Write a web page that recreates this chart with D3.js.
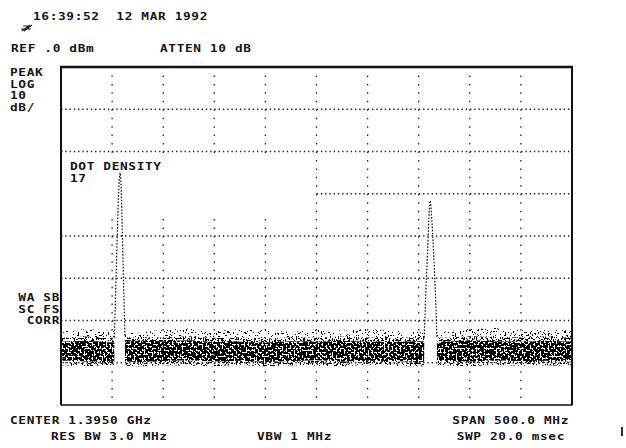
<!DOCTYPE html>
<html>
<head>
<meta charset="utf-8">
<script src="https://cdn.jsdelivr.net/npm/d3@7"></script>
<style>
  html, body { margin: 0; padding: 0; background: #fff; }
  svg text { font-family: "DejaVu Sans Mono", "Liberation Mono", monospace; font-size: 10px; font-weight: bold; fill: #151515; letter-spacing: 0.5px; white-space: pre; }
</style>
</head>
<body>
<svg id="chart" width="626" height="448"></svg>
<script>
// Analyzer settings (MHz / dBm)
const centerMHz = 1395;
const spanMHz = 500;
const refLevel = 0;
const dbPerDiv = 10;
const xDivisions = 10;
const yDivisions = 8;

// Annotation texts
const headerLines = ["16:39:52  12 MAR 1992"];
const refLabels = ["REF .0 dBm", "ATTEN 10 dB"];
const modeLabels = ["PEAK", "LOG", "10", "dB/"];
const dotLabels = ["DOT DENSITY", "17"];
const statusLabels = ["WA SB", "SC FS", "CORR"];
const footerLabels = ["CENTER 1.3950 GHz", "SPAN 500.0 MHz", "RES BW 3.0 MHz", "VBW 1 MHz", "SWP 20.0 msec"];

// Carrier responses (frequency MHz, level dBm)
const peak1Freq  = [1197.2, 1198.6, 1199.8, 1201.0, 1202.0, 1202.8, 1203.4, 1204.2, 1205.2, 1206.3, 1207.6];
const peak1Level = [-64.0, -52.0, -42.0, -32.0, -26.5, -25.0, -26.0, -31.0, -41.0, -52.0, -64.0];
const peak2Freq  = [1500.4, 1502.0, 1503.6, 1504.9, 1505.7, 1506.2, 1507.0, 1508.3, 1510.0, 1511.6, 1512.8];
const peak2Level = [-64.0, -53.0, -44.0, -36.0, -32.5, -31.6, -33.0, -38.0, -46.0, -55.0, -64.0];

// Noise floor envelope (frequency MHz, level dBm)
const noiseFreq   = [1145, 1170, 1195, 1220, 1245, 1270, 1295, 1320, 1345, 1370, 1395, 1420, 1445, 1470, 1495, 1520, 1545, 1570, 1595, 1620, 1645];
const noiseSparse = [-62.6, -62.0, -62.4, -62.9, -62.2, -61.9, -62.6, -62.0, -62.3, -62.7, -62.1, -62.4, -62.0, -62.5, -62.2, -62.6, -62.0, -61.8, -62.3, -62.1, -62.4];
const noiseEdge   = [-64.1, -63.8, -64.2, -63.9, -64.0, -63.7, -64.2, -64.0, -64.3, -63.9, -64.1, -63.8, -64.0, -64.2, -63.9, -64.1, -63.7, -63.9, -64.0, -63.8, -64.1];
const noiseTop    = [-65.0, -64.8, -65.2, -64.8, -64.9, -64.7, -65.1, -65.0, -65.2, -64.9, -65.0, -64.8, -65.0, -65.1, -64.9, -65.0, -64.7, -64.9, -65.0, -64.8, -65.0];
const noiseBottom = [-69.4, -69.7, -69.5, -69.8, -69.6, -69.4, -69.7, -69.5, -69.8, -69.6, -69.4, -69.7, -69.5, -69.6, -69.8, -69.5, -69.7, -69.4, -69.6, -69.5, -69.7];
const noiseFringe = [-70.6, -70.8, -70.5, -70.9, -70.6, -70.7, -70.8, -70.5, -70.9, -70.6, -70.7, -70.8, -70.5, -70.7, -70.9, -70.6, -70.8, -70.5, -70.7, -70.6, -70.8];

const svg = d3.select("#chart");
const plot = { left: 61, right: 572, top: 67, bottom: 405 };

const x = d3.scaleLinear()
  .domain([centerMHz - spanMHz / 2, centerMHz + spanMHz / 2])
  .range([plot.left, plot.right]);
const y = d3.scaleLinear()
  .domain([refLevel - dbPerDiv * yDivisions, refLevel])
  .range([plot.bottom, plot.top]);

const xGrid = d3.range(1, xDivisions).map(i => x.domain()[0] + i * spanMHz / xDivisions);
const yGrid = d3.range(1, yDivisions).map(i => refLevel - i * dbPerDiv);

// Speckle filters: thresholded turbulence, masked by the band shape
const defs = svg.append("defs");
function speckle(id, seed, freq, threshold) {
  const n = 50;
  const table = d3.range(n).map(i => (i / n >= threshold ? 1 : 0)).join(" ");
  const f = defs.append("filter").attr("id", id)
    .attr("x", 0).attr("y", 0).attr("width", 1).attr("height", 1)
    .attr("color-interpolation-filters", "sRGB");
  f.append("feTurbulence").attr("type", "fractalNoise")
    .attr("baseFrequency", freq).attr("numOctaves", 2).attr("seed", seed).attr("result", "n");
  f.append("feColorMatrix").attr("in", "n").attr("type", "matrix")
    .attr("values", "0 0 0 0 0  0 0 0 0 0  0 0 0 0 0  1 0 0 0 0").attr("result", "a");
  const ct = f.append("feComponentTransfer").attr("in", "a").attr("result", "t");
  ct.append("feFuncA").attr("type", "discrete").attr("tableValues", table);
  f.append("feComposite").attr("in", "t").attr("in2", "SourceGraphic").attr("operator", "in");
}
speckle("spkSparse", 4, "0.6", 0.63);
speckle("spkEdge", 9, "0.55", 0.54);
speckle("spkDense", 7, "0.5", 0.46);
speckle("spkFringe", 11, "0.6", 0.58);

// Graticule
const grid = svg.append("g").attr("class", "grid");
grid.selectAll("line.h").data(yGrid).join("line").attr("class", "h")
  .attr("x1", plot.left).attr("x2", plot.right)
  .attr("y1", d => y(d)).attr("y2", d => y(d))
  .attr("stroke", "#222").attr("stroke-width", 1.3)
  .attr("stroke-dasharray", "1.4 2.86");
grid.selectAll("line.v").data(xGrid).join("line").attr("class", "v")
  .attr("x1", d => x(d)).attr("x2", d => x(d))
  .attr("y1", plot.top + 8.45).attr("y2", plot.bottom)
  .attr("stroke", "#222").attr("stroke-width", 1.3)
  .attr("stroke-dasharray", "1.5 6.95");

// Annotation block clears the graticule behind it
svg.append("rect")
  .attr("x", plot.left + 1).attr("y", y(-20) + 1.5)
  .attr("width", x(xGrid[4]) - plot.left - 2).attr("height", 62)
  .attr("fill", "#fff");

// Noise band, clipped away where the carriers rise out of it
const clip = defs.append("clipPath").attr("id", "noiseClip");
const gaps = [[peak1Freq[0], peak1Freq[peak1Freq.length - 1]], [peak2Freq[0], peak2Freq[peak2Freq.length - 1]]];
const segs = [];
let start = x.domain()[0];
gaps.forEach(g => { segs.push([start, g[0]]); start = g[1]; });
segs.push([start, x.domain()[1]]);
clip.selectAll("rect").data(segs).join("rect")
  .attr("x", d => x(d[0])).attr("width", d => x(d[1]) - x(d[0]))
  .attr("y", plot.top).attr("height", plot.bottom - plot.top);

const noise = noiseFreq.map((f, i) => ({
  f, s: noiseSparse[i], e: noiseEdge[i], t: noiseTop[i], b: noiseBottom[i], r: noiseFringe[i]
}));
const band = (hi, lo) => d3.area().x(d => x(d.f)).y0(d => y(d[lo])).y1(d => y(d[hi]));
const noiseG = svg.append("g").attr("clip-path", "url(#noiseClip)");
[["s", "e", "spkSparse"], ["e", "t", "spkEdge"], ["t", "b", "spkDense"], ["b", "r", "spkFringe"]]
  .forEach(([hi, lo, fid]) => {
    noiseG.append("path").datum(noise).attr("d", band(hi, lo))
      .attr("fill", "#000").attr("filter", `url(#${fid})`);
  });

// Carrier traces
const trace = d3.line().x(d => x(d[0])).y(d => y(d[1]));
[[peak1Freq, peak1Level], [peak2Freq, peak2Level]].forEach(([fs, ls]) => {
  svg.append("path").datum(fs.map((f, i) => [f, ls[i]]))
    .attr("d", trace).attr("fill", "none")
    .attr("stroke", "#111").attr("stroke-width", 1.2)
    .attr("stroke-dasharray", "1.6 1.6");
});

// Frame
const frame = svg.append("g").attr("stroke", "#111");
frame.append("line").attr("x1", plot.left - 1).attr("x2", plot.right + 1).attr("y1", plot.top).attr("y2", plot.top).attr("stroke-width", 2.6);
frame.append("line").attr("x1", plot.left).attr("x2", plot.left).attr("y1", plot.top).attr("y2", plot.bottom).attr("stroke-width", 2);
frame.append("line").attr("x1", plot.right).attr("x2", plot.right).attr("y1", plot.top).attr("y2", plot.bottom).attr("stroke-width", 2);
frame.append("line").attr("x1", plot.left).attr("x2", plot.right).attr("y1", plot.bottom).attr("y2", plot.bottom).attr("stroke-width", 1.6);

// Texts: wide monospace glyphs, stretched horizontally like the CRT font
const txt = (s, tx, ty, anchor) => svg.append("text")
  .attr("transform", `translate(${tx},${ty}) scale(1.28,1)`)
  .attr("text-anchor", anchor || "start").text(s);
txt(headerLines[0], 33, 20);
txt(refLabels[0], 11, 52);
txt(refLabels[1], 160, 52);
modeLabels.forEach((s, i) => txt(s, 10, 76 + i * 11.7));
dotLabels.forEach((s, i) => txt(s, 70, 170 + i * 11.7));
statusLabels.forEach((s, i) => txt(s, 60, 301 + i * 11.7, "end"));
txt(footerLabels[0], 10, 424);
txt(footerLabels[1], 569, 424, "end");
txt(footerLabels[2], 51, 440);
txt(footerLabels[3], 257, 440);
txt(footerLabels[4], 565, 440, "end");

// Small pen-plotter mark under the clock line
svg.append("path")
  .attr("d", "M22,31 L30,25 M24,31 L32,25 M21,29 L31,29 M23,26 L31,26")
  .attr("stroke", "#222").attr("stroke-width", 1.2).attr("fill", "none");
svg.append("rect").attr("x", 621).attr("y", 427).attr("width", 2).attr("height", 9).attr("fill", "#333");
</script>
</body>
</html>
